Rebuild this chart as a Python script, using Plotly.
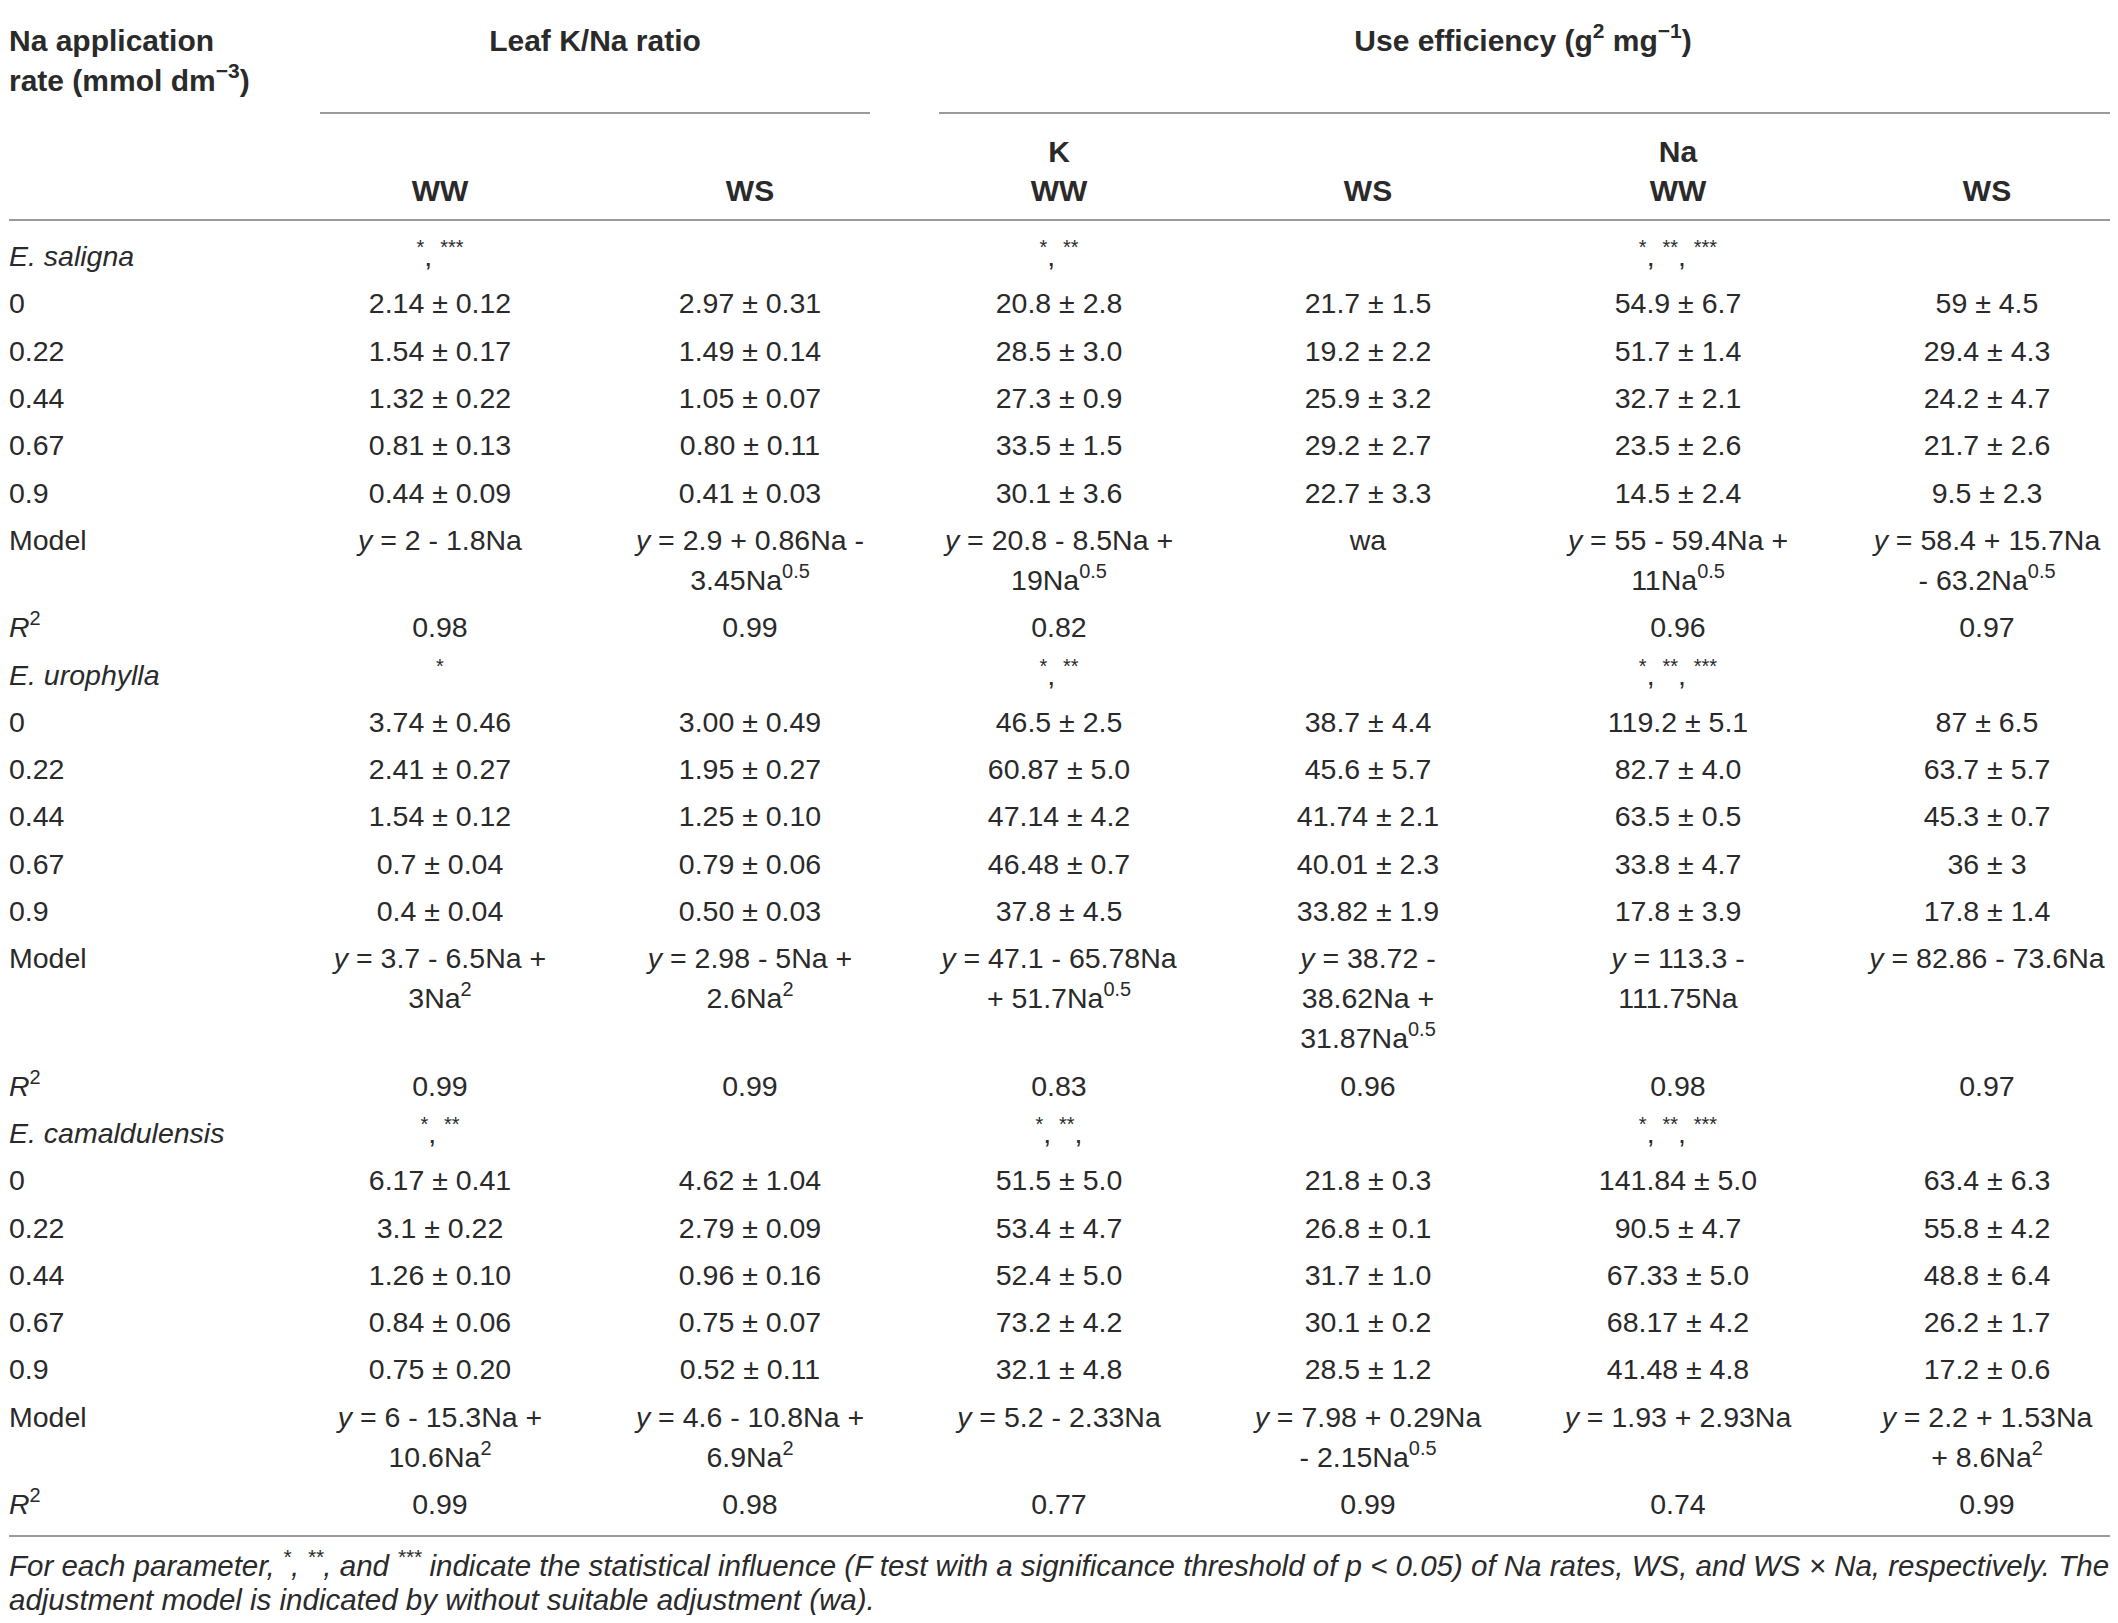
import re
import plotly.graph_objects as go

# ---------------- data ----------------
species = ["E. saligna", "E. urophylla", "E. camaldulensis"]
na_rates = ["0", "0.22", "0.44", "0.67", "0.9"]
group_headers = ["Leaf K/Na ratio", "Use efficiency (g<sup>2</sup> mg<sup>−1</sup>)"]
sub_headers = ["", "", "K", "", "Na", ""]
column_headers = ["WW", "WS", "WW", "WS", "WW", "WS"]
row_header = "Na application<br>rate (mmol dm<sup>−3</sup>)"

significance = [
    ["*, ***", "", "*, **", "", "*, **, ***", ""],
    ["*", "", "*, **", "", "*, **, ***", ""],
    ["*, **", "", "*, **,", "", "*, **, ***", ""],
]

saligna_kna_ww = ["2.14 ± 0.12", "1.54 ± 0.17", "1.32 ± 0.22", "0.81 ± 0.13", "0.44 ± 0.09"]
saligna_kna_ws = ["2.97 ± 0.31", "1.49 ± 0.14", "1.05 ± 0.07", "0.80 ± 0.11", "0.41 ± 0.03"]
saligna_k_ww = ["20.8 ± 2.8", "28.5 ± 3.0", "27.3 ± 0.9", "33.5 ± 1.5", "30.1 ± 3.6"]
saligna_k_ws = ["21.7 ± 1.5", "19.2 ± 2.2", "25.9 ± 3.2", "29.2 ± 2.7", "22.7 ± 3.3"]
saligna_na_ww = ["54.9 ± 6.7", "51.7 ± 1.4", "32.7 ± 2.1", "23.5 ± 2.6", "14.5 ± 2.4"]
saligna_na_ws = ["59 ± 4.5", "29.4 ± 4.3", "24.2 ± 4.7", "21.7 ± 2.6", "9.5 ± 2.3"]
saligna_models = [
    "<i>y</i> = 2 - 1.8Na",
    "<i>y</i> = 2.9 + 0.86Na -<br>3.45Na<sup>0.5</sup>",
    "<i>y</i> = 20.8 - 8.5Na +<br>19Na<sup>0.5</sup>",
    "wa",
    "<i>y</i> = 55 - 59.4Na +<br>11Na<sup>0.5</sup>",
    "<i>y</i> = 58.4 + 15.7Na<br>- 63.2Na<sup>0.5</sup>",
]
saligna_r2 = ["0.98", "0.99", "0.82", "", "0.96", "0.97"]

urophylla_kna_ww = ["3.74 ± 0.46", "2.41 ± 0.27", "1.54 ± 0.12", "0.7 ± 0.04", "0.4 ± 0.04"]
urophylla_kna_ws = ["3.00 ± 0.49", "1.95 ± 0.27", "1.25 ± 0.10", "0.79 ± 0.06", "0.50 ± 0.03"]
urophylla_k_ww = ["46.5 ± 2.5", "60.87 ± 5.0", "47.14 ± 4.2", "46.48 ± 0.7", "37.8 ± 4.5"]
urophylla_k_ws = ["38.7 ± 4.4", "45.6 ± 5.7", "41.74 ± 2.1", "40.01 ± 2.3", "33.82 ± 1.9"]
urophylla_na_ww = ["119.2 ± 5.1", "82.7 ± 4.0", "63.5 ± 0.5", "33.8 ± 4.7", "17.8 ± 3.9"]
urophylla_na_ws = ["87 ± 6.5", "63.7 ± 5.7", "45.3 ± 0.7", "36 ± 3", "17.8 ± 1.4"]
urophylla_models = [
    "<i>y</i> = 3.7 - 6.5Na +<br>3Na<sup>2</sup>",
    "<i>y</i> = 2.98 - 5Na +<br>2.6Na<sup>2</sup>",
    "<i>y</i> = 47.1 - 65.78Na<br>+ 51.7Na<sup>0.5</sup>",
    "<i>y</i> = 38.72 -<br>38.62Na +<br>31.87Na<sup>0.5</sup>",
    "<i>y</i> = 113.3 -<br>111.75Na",
    "<i>y</i> = 82.86 - 73.6Na",
]
urophylla_r2 = ["0.99", "0.99", "0.83", "0.96", "0.98", "0.97"]

camaldulensis_kna_ww = ["6.17 ± 0.41", "3.1 ± 0.22", "1.26 ± 0.10", "0.84 ± 0.06", "0.75 ± 0.20"]
camaldulensis_kna_ws = ["4.62 ± 1.04", "2.79 ± 0.09", "0.96 ± 0.16", "0.75 ± 0.07", "0.52 ± 0.11"]
camaldulensis_k_ww = ["51.5 ± 5.0", "53.4 ± 4.7", "52.4 ± 5.0", "73.2 ± 4.2", "32.1 ± 4.8"]
camaldulensis_k_ws = ["21.8 ± 0.3", "26.8 ± 0.1", "31.7 ± 1.0", "30.1 ± 0.2", "28.5 ± 1.2"]
camaldulensis_na_ww = ["141.84 ± 5.0", "90.5 ± 4.7", "67.33 ± 5.0", "68.17 ± 4.2", "41.48 ± 4.8"]
camaldulensis_na_ws = ["63.4 ± 6.3", "55.8 ± 4.2", "48.8 ± 6.4", "26.2 ± 1.7", "17.2 ± 0.6"]
camaldulensis_models = [
    "<i>y</i> = 6 - 15.3Na +<br>10.6Na<sup>2</sup>",
    "<i>y</i> = 4.6 - 10.8Na +<br>6.9Na<sup>2</sup>",
    "<i>y</i> = 5.2 - 2.33Na",
    "<i>y</i> = 7.98 + 0.29Na<br>- 2.15Na<sup>0.5</sup>",
    "<i>y</i> = 1.93 + 2.93Na",
    "<i>y</i> = 2.2 + 1.53Na<br>+ 8.6Na<sup>2</sup>",
]
camaldulensis_r2 = ["0.99", "0.98", "0.77", "0.99", "0.74", "0.99"]

footnote = ("For each parameter, <sup>*</sup>, <sup>**</sup>, and <sup>***</sup> indicate the statistical "
            "influence (F test with a significance threshold of p < 0.05) of Na rates, WS, and WS × Na, "
            "respectively. The<br>adjustment model is indicated by without suitable adjustment (wa).")

species_values = [
    [saligna_kna_ww, saligna_kna_ws, saligna_k_ww, saligna_k_ws, saligna_na_ww, saligna_na_ws],
    [urophylla_kna_ww, urophylla_kna_ws, urophylla_k_ww, urophylla_k_ws, urophylla_na_ww, urophylla_na_ws],
    [camaldulensis_kna_ww, camaldulensis_kna_ws, camaldulensis_k_ww, camaldulensis_k_ws,
     camaldulensis_na_ww, camaldulensis_na_ws],
]
species_models = [saligna_models, urophylla_models, camaldulensis_models]
species_r2 = [saligna_r2, urophylla_r2, camaldulensis_r2]

# ---------------- layout constants ----------------
W, H = 2118, 1623
OFF = 8  # default body margin of the page
FONT = "Liberation Sans, Arial, sans-serif"
TXT = "#2a2a2a"
LINE = "#7a7a7a"
FS = 28.5
FS_BOLD = 30
FS_NOTE = 29.5
COL_X = [440, 750, 1059, 1368, 1678, 1987]
LEFT_X = 9
PITCH = 47.3
LINE_GAP = 40
FIRST_Y = 255
DY = 4
DY_HEAD = 1.5


def sup_stars(s):
    return re.sub(r"(\*+)", r"<sup>\1</sup>", s)


# text cells gathered as (x, y, text, align, bold, size)
cells = []

def add(x, y, text, align="center", bold=False, size=None, gap=LINE_GAP, dy=DY):
    if size is None:
        size = FS_BOLD if bold else FS
    lines = text.split("<br>")
    for k, ln in enumerate(lines):
        cells.append((x, y + dy + k * gap, ln, align, bold, size))

# header
add(LEFT_X, 42, row_header, align="left", bold=True, dy=DY_HEAD)
add((COL_X[0] + COL_X[1]) / 2, 42, group_headers[0], bold=True, dy=DY_HEAD)
add((COL_X[2] + COL_X[5]) / 2, 42, group_headers[1], bold=True, dy=DY_HEAD)
for j in range(6):
    if sub_headers[j]:
        add(COL_X[j], 153, sub_headers[j], bold=True, dy=DY_HEAD)
    add(COL_X[j], 192, column_headers[j], bold=True, dy=DY_HEAD)

# body
y = FIRST_Y
for s in range(3):
    add(LEFT_X, y, "<i>" + species[s] + "</i>", align="left")
    for j in range(6):
        if significance[s][j]:
            add(COL_X[j], y, sup_stars(significance[s][j]))
    y += PITCH
    for r in range(len(na_rates)):
        add(LEFT_X, y, na_rates[r], align="left")
        for j in range(6):
            add(COL_X[j], y, species_values[s][j][r])
        y += PITCH
    add(LEFT_X, y, "Model", align="left")
    nl = 1
    for j in range(6):
        add(COL_X[j], y, species_models[s][j])
        nl = max(nl, species_models[s][j].count("<br>") + 1)
    y += PITCH + (nl - 1) * LINE_GAP
    add(LEFT_X, y, "<i>R</i><sup>2</sup>", align="left")
    for j in range(6):
        if species_r2[s][j]:
            add(COL_X[j], y, species_r2[s][j])
    y += PITCH

note_lines = footnote.split("<br>")
for k, ln in enumerate(note_lines):
    add(LEFT_X, 1569 + k * 34, "<i>" + ln + "</i>", align="left", size=FS_NOTE, dy=0)

fig = go.Figure()
groups = {}
for (x, yy, t, align, bold, size) in cells:
    groups.setdefault((align, bold, size), []).append((x, yy, t))
for (align, bold, size), pts in groups.items():
    fig.add_trace(go.Scatter(
        x=[p[0] for p in pts], y=[p[1] for p in pts], text=[p[2] for p in pts],
        mode="text",
        textposition="middle right" if align == "left" else "middle center",
        textfont=dict(family=FONT, size=size, color=TXT,
                      weight="bold" if bold else "normal"),
        hoverinfo="skip", showlegend=False, cliponaxis=False,
    ))

# rules
rules = [
    (9, 2111, 5),
    (320, 870, 113),
    (939, 2111, 113),
    (9, 2111, 220),
    (9, 2111, 1536),
]
for x0, x1, yy in rules:
    fig.add_shape(type="line", xref="x", yref="y", x0=x0, x1=x1, y0=yy, y1=yy,
                  line=dict(color=LINE, width=1.6))

pw, ph = W - 2 * OFF, H - 2 * OFF
fig.update_layout(
    width=pw, height=ph,
    margin=dict(l=0, r=0, t=0, b=0),
    paper_bgcolor="white", plot_bgcolor="white",
    xaxis=dict(range=[OFF, OFF + pw], visible=False, fixedrange=True),
    yaxis=dict(range=[OFF + ph, OFF], visible=False, fixedrange=True),
    font=dict(family=FONT, color=TXT),
)
fig.write_html("out.html", config={"displayModeBar": False})
